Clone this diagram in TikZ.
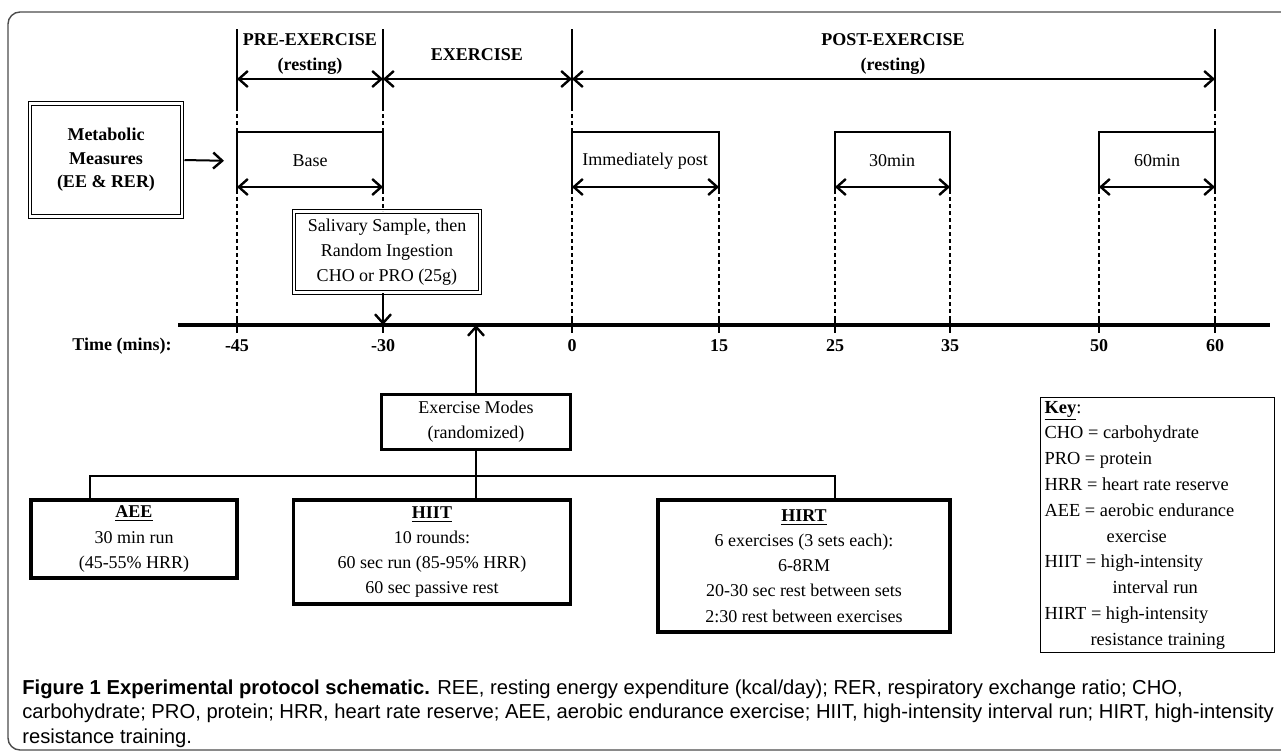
\documentclass[tikz,border=0pt]{standalone}
\usepackage{fontspec}
\setmainfont{Liberation Serif}
\newfontfamily\capfont{Liberation Sans}
\usetikzlibrary{arrows.meta, positioning}
\def\FrameColor{black!70}
\def\Barb{Straight Barb[length=4.5pt,width=8pt,line width=1.2pt]}

\begin{document}
\begin{tikzpicture}[x=0.5pt, y=-0.5pt,
     N/.style = {draw, line width=1.6pt, inner sep=0pt, align=center, font=\fontsize{9}{12.6}\selectfont},
   dbl/.style = {draw, double, double distance=1.4pt, line width=0.5pt, inner sep=0pt, align=center},
   lbl/.style = {inner sep=0pt, font=\fontsize{9}{12.5}\selectfont},
   hdr/.style = {inner sep=0pt, align=center, font=\fontsize{9}{12.5}\selectfont\bfseries},
  tick/.style = {lbl, font=\fontsize{9}{11}\selectfont\bfseries},
 vline/.style = {line width=0.8pt},
  dots/.style = {line width=0.8pt, dash pattern=on 2pt off 1.5pt},
   dim/.style = {line width=1.2pt, {\Barb}-{\Barb}},
    every edge/.style = {draw, line width=1pt, -{\Barb}}
                        ]
\useasboundingbox (0,0) rectangle (1281,755);
\begin{scope}
\clip (0,0) rectangle (1281,755);
\draw[\FrameColor, line width=0.7pt, rounded corners=6pt] (8,12) rectangle (1300,750);
\end{scope}

% heights used by the timeline
\coordinate (top)  at (0,29);
\coordinate (phase) at (0,79);
\coordinate (cut)  at (0,107);
\coordinate (lid)  at (0,132);
\coordinate (span) at (0,187);
\coordinate (foot) at (0,190);

% time axis
\coordinate (ax0) at (178,325);
\coordinate (ax1) at (1270,325);
\draw[line width=2pt] (ax0) -- (ax1);
\node[tick, anchor=east] (tlab) at (172,346) {Time (mins):};
\foreach \n/\x/\t in {m45/237/-45, m30/383/-30, z0/572/0, p15/719/15,
                      p25/835/25, p35/950/35, p50/1099/50, p60/1215/60}{
  \coordinate (\n) at (\x,325);
  \draw[vline] ([yshift=4pt]\n) -- ([yshift=-4pt]\n);
  \node[tick, below=7pt of \n] (l\n) {\t};
}

% phases
\foreach \n in {m45, m30, z0, p60}{
  \draw[vline] (\n |- top) -- (\n |- cut);
  \draw[dots]  (\n |- cut) -- (\n |- lid);
}
\draw[dim] (m45 |- phase) -- (m30 |- phase);
\draw[dim] (m30 |- phase) -- (z0 |- phase);
\draw[dim] (z0 |- phase)  -- (p60 |- phase);
\node[hdr] (pre)  at (310,54.5) {PRE-EXERCISE\\(resting)};
\node[hdr] (exer) at (477,55)   {EXERCISE};
\node[hdr] (post) at (893,54.5) {POST-EXERCISE\\(resting)};

% measuring windows
\draw[vline] (m45 |- foot) |- (m30 |- lid) -- (m30 |- foot);
\draw[vline] (z0 |- foot)  |- (p15 |- lid) -- (p15 |- foot);
\draw[vline] (p25 |- foot) |- (p35 |- lid) -- (p35 |- foot);
\draw[vline] (p50 |- foot) |- (p60 |- lid) -- (p60 |- foot);
\draw[dim] (m45 |- span) -- (m30 |- span);
\draw[dim] (z0 |- span)  -- (p15 |- span);
\draw[dim] (p25 |- span) -- (p35 |- span);
\draw[dim] (p50 |- span) -- (p60 |- span);
\node[lbl] (base)  at (310,161)  {Base};
\node[lbl] (ipost) at (645,161)  {Immediately post};
\node[lbl] (w30)   at (892,161)  {30min};
\node[lbl] (w60)   at (1157,161) {60min};
\foreach \n in {m45, z0, p15, p25, p35, p50, p60}
  \draw[dots] (\n |- foot) -- (\n);

\node[dbl, minimum width=76pt, minimum height=56.5pt
     , font=\fontsize{9}{11.8}\selectfont\bfseries
     ] (meta) at (106,160) {Metabolic\\Measures\\(EE \& RER)};
\node[dbl, minimum width=93pt, minimum height=40.5pt
     , font=\fontsize{9}{12.5}\selectfont
     ] (saliva) at (387,252) {Salivary Sample, then\\Random Ingestion\\CHO or PRO (25g)};
\draw[dots] (m30 |- foot) -- (m30 |- saliva.north);

\node[N, minimum width=94.5pt, minimum height=27.5pt] (modes) at (476,422) {Exercise Modes\\(randomized)};
\node[N, minimum width=103pt, minimum height=39pt] (aee) at (134,539)
     {\textbf{\underline{AEE}}\\30 min run\\(45-55\% HRR)};
\node[N, minimum width=138.5pt, minimum height=52pt] (hiit) at (432,552)
     {\textbf{\underline{HIIT}}\\10 rounds:\\60 sec run (85-95\% HRR)\\60 sec passive rest};
\node[N, minimum width=146pt, minimum height=66pt] (hirt) at (804,566)
     {\textbf{\underline{HIRT}}\\6 exercises (3 sets each):\\6-8RM\\20-30 sec rest between sets\\2:30 rest between exercises};

\node[draw, line width=0.6pt, anchor=north west, text width=113pt, minimum height=127.5pt
     , inner xsep=2pt, inner ysep=0pt, align=flush left, font=\fontsize{9.2}{12.9}\selectfont
     ] (key) at (1040,397)
     {\textbf{\underline{Key}}:\\
      CHO = carbohydrate\\
      PRO = protein\\
      HRR = heart rate reserve\\
      AEE = aerobic endurance\\
      \hspace*{31pt}exercise\\
      HIIT = high-intensity\\
      \hspace*{34pt}interval run\\
      HIRT = high-intensity\\
      \hspace*{23pt}resistance training};

\coordinate (fl) at (90,476);
\coordinate (fr) at (835,476);
\draw[line width=0.8pt] (modes.south) -- (modes.south |- hiit.north);
\draw[line width=0.8pt] (fl |- aee.north) -- (fl) -- (fr) -- (fr |- hirt.north);

\draw   (meta.east) edge[shorten <=1pt, shorten >=6.5pt] (m45 |- base)
        (saliva.south -| m30) edge (m30)
        (modes.north) edge (modes.north |- m30);

\node[anchor=north west, inner sep=0pt, align=flush left
     , font=\capfont\fontsize{10.1}{12.4}\selectfont
     ] (caption) at (22,679)
     {\textbf{Figure 1 Experimental protocol schematic.} REE, resting energy expenditure (kcal/day); RER, respiratory exchange ratio; CHO,\\
      carbohydrate; PRO, protein; HRR, heart rate reserve; AEE, aerobic endurance exercise; HIIT, high-intensity interval run; HIRT, high-intensity\\
      resistance training.};
\end{tikzpicture}
\end{document}
